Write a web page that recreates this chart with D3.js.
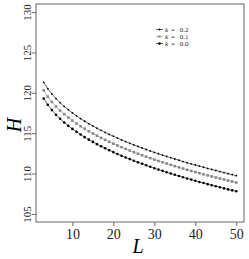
<!DOCTYPE html>
<html>
<head>
<meta charset="utf-8">
<script src="https://cdn.jsdelivr.net/npm/d3@7"></script>
<style>
  body { margin: 0; background: #fff; }
  text { font-family: "Liberation Serif", "Times New Roman", serif; }
</style>
</head>
<body>
<div id="chart"></div>
<script>
// L values 3..50
const L = d3.range(3, 51);

const k02 = [121.30, 120.51, 119.86, 119.28, 118.78, 118.32, 117.90, 117.51, 117.15, 116.80,
  116.48, 116.18, 115.89, 115.61, 115.35, 115.10, 114.85, 114.62, 114.39, 114.17,
  113.96, 113.75, 113.55, 113.36, 113.17, 112.98, 112.80, 112.62, 112.45, 112.28,
  112.12, 111.96, 111.80, 111.65, 111.49, 111.34, 111.20, 111.06, 110.91, 110.78,
  110.64, 110.51, 110.38, 110.25, 110.12, 109.99, 109.87, 109.74];

const k01 = [120.30, 119.52, 118.87, 118.31, 117.81, 117.36, 116.94, 116.56, 116.20, 115.86,
  115.55, 115.24, 114.96, 114.69, 114.42, 114.17, 113.93, 113.70, 113.48, 113.26,
  113.05, 112.85, 112.65, 112.46, 112.27, 112.09, 111.91, 111.73, 111.56, 111.40,
  111.24, 111.08, 110.92, 110.77, 110.62, 110.47, 110.33, 110.19, 110.05, 109.91,
  109.78, 109.64, 109.51, 109.39, 109.26, 109.13, 109.01, 108.89];

const k00 = [119.30, 118.52, 117.86, 117.29, 116.79, 116.33, 115.91, 115.53, 115.17, 114.83,
  114.51, 114.20, 113.92, 113.64, 113.38, 113.13, 112.88, 112.65, 112.42, 112.20,
  111.99, 111.79, 111.59, 111.39, 111.21, 111.02, 110.84, 110.66, 110.49, 110.33,
  110.16, 110.00, 109.85, 109.69, 109.54, 109.39, 109.25, 109.10, 108.96, 108.83,
  108.69, 108.56, 108.43, 108.30, 108.17, 108.04, 107.92, 107.80];

const xTicks = [10, 20, 30, 40, 50];
const yTicks = [105, 110, 115, 120, 125, 130];
const legendLabels = ["0.2", "0.1", "0.0"];

const width = 249, height = 259;
const margin = { top: 4, right: 5, bottom: 37, left: 36 };

const svg = d3.select("#chart").append("svg")
  .attr("width", width)
  .attr("height", height);

const x = d3.scaleLinear().domain([1.12, 51.88])
  .range([margin.left, width - margin.right]);
const y = d3.scaleLinear().domain([104, 131])
  .range([height - margin.bottom, margin.top]);

const frame = "#666";

// box
svg.append("rect")
  .attr("x", margin.left).attr("y", margin.top)
  .attr("width", width - margin.right - margin.left)
  .attr("height", height - margin.bottom - margin.top)
  .attr("fill", "none").attr("stroke", frame).attr("stroke-width", 1);

// x axis
const xAxis = svg.append("g")
  .attr("transform", `translate(0,${height - margin.bottom})`)
  .call(d3.axisBottom(x).tickValues(xTicks).tickSize(4).tickPadding(3));
xAxis.select(".domain").remove();
xAxis.selectAll("line").attr("stroke", frame);
xAxis.selectAll("text").attr("font-size", 14).attr("fill", "#222")
  .style("font-family", "Liberation Serif");

// y axis
const yAxis = svg.append("g")
  .attr("transform", `translate(${margin.left},0)`)
  .call(d3.axisLeft(y).tickValues(yTicks).tickSize(4).tickPadding(0));
yAxis.select(".domain").remove();
yAxis.selectAll("line").attr("stroke", frame);
yAxis.selectAll("text")
  .attr("font-size", 11).attr("fill", "#222")
  .attr("text-anchor", "middle")
  .attr("x", null).attr("dy", null)
  .attr("transform", "translate(-5,0) rotate(-90)")
  .style("font-family", "Liberation Serif");

// axis titles
svg.append("text")
  .attr("x", 138).attr("y", 253)
  .attr("text-anchor", "middle")
  .attr("font-size", 20).attr("font-style", "italic")
  .text("L");
svg.append("text")
  .attr("transform", `translate(21,${y(116)}) rotate(-90)`)
  .attr("text-anchor", "middle")
  .attr("font-size", 20).attr("font-style", "italic")
  .text("H");

// series
const series = [
  { vals: k02, color: "#000", shape: "dot", r: 0.9 },
  { vals: k01, color: "#888", shape: "square", r: 1.3 },
  { vals: k00, color: "#000", shape: "dot", r: 1.3 }
];

const line = d3.line().x((d, i) => x(L[i])).y(d => y(d));

series.forEach(s => {
  svg.append("path")
    .datum(s.vals)
    .attr("d", line)
    .attr("fill", "none")
    .attr("stroke", s.color)
    .attr("stroke-width", 0.6);
  if (s.shape === "square") {
    svg.append("g").selectAll("rect")
      .data(s.vals)
      .join("rect")
      .attr("x", (d, i) => x(L[i]) - s.r)
      .attr("y", d => y(d) - s.r)
      .attr("width", s.r * 2)
      .attr("height", s.r * 2)
      .attr("fill", s.color);
  } else {
    svg.append("g").selectAll("circle")
      .data(s.vals)
      .join("circle")
      .attr("cx", (d, i) => x(L[i]))
      .attr("cy", d => y(d))
      .attr("r", s.r)
      .attr("fill", s.color);
  }
});

// legend
const legend = svg.append("g").attr("transform", "translate(156,29.5)");
series.forEach((s, i) => {
  const g = legend.append("g").attr("transform", `translate(0,${i * 7})`);
  g.append("line").attr("x1", 0).attr("x2", 7)
    .attr("stroke", s.color).attr("stroke-width", 0.6);
  if (s.shape === "square") {
    g.append("rect").attr("x", 3.5 - 1.1).attr("y", -1.1)
      .attr("width", 2.2).attr("height", 2.2).attr("fill", s.color);
  } else {
    g.append("circle").attr("cx", 3.5).attr("r", s.r).attr("fill", s.color);
  }
  g.append("text")
    .attr("x", 9).attr("y", 2.4)
    .attr("font-size", 7).attr("font-style", "italic")
    .attr("fill", "#222")
    .text("k");
  g.append("text")
    .attr("x", 15).attr("y", 2.4)
    .attr("font-size", 7)
    .attr("fill", "#222")
    .attr("word-spacing", 3)
    .text("= " + legendLabels[i]);
});
</script>
</body>
</html>
